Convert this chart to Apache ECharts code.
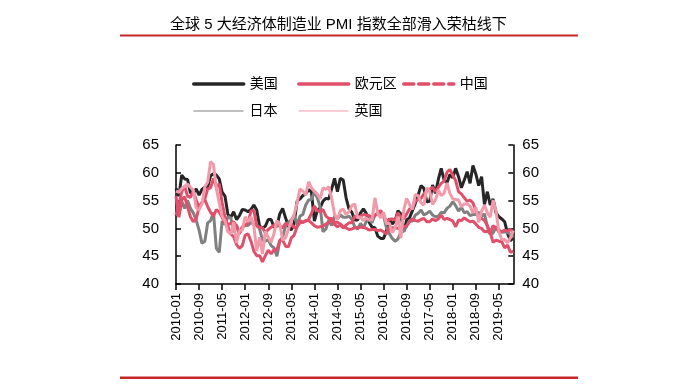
<!DOCTYPE html>
<html>
<head>
<meta charset="utf-8">
<script src="https://cdn.jsdelivr.net/npm/echarts@6/dist/echarts.min.js"></script>
<style>html,body{margin:0;padding:0;background:#fff}#c{width:700px;height:392px}</style>
</head>
<body>
<div id="c"></div>
<script>
var titleText = '全球 5 大经济体制造业 PMI 指数全部滑入荣枯线下';
var seriesNames = ['美国', '欧元区', '中国', '日本', '英国'];
var yTicks = [40, 45, 50, 55, 60, 65];

var months = [];
for (var y = 2010; y <= 2019; y++) {
  for (var m = 1; m <= 12; m++) {
    if (y === 2019 && m > 10) break;
    months.push(y + '-' + (m < 10 ? '0' + m : m));
  }
}

var us = [
  57.2, 55.8, 59.6, 58.9, 58.8, 56.4, 56.4, 57.1, 56.0, 57.0, 57.4, 57.5,
  59.5, 59.8, 59.6, 58.9, 56.5, 55.8, 52.5, 52.0, 53.0, 51.6, 52.3, 53.4,
  53.3, 53.0, 53.4, 54.2, 53.3, 50.4, 50.1, 50.4, 51.6, 51.6, 50.2, 50.4,
  52.6, 53.6, 51.9, 50.4, 49.7, 51.0, 54.9, 55.3, 55.9, 56.2, 57.0, 56.5,
  51.3, 53.2, 53.7, 54.9, 55.4, 55.3, 57.1, 59.0, 56.6, 59.0, 58.7, 55.5,
  53.5, 52.9, 51.5, 51.5, 52.8, 53.5, 52.7, 51.1, 50.2, 50.1, 48.6, 48.2,
  48.2, 49.5, 51.8, 50.8, 51.3, 53.2, 52.6, 49.4, 51.5, 51.9, 53.2, 54.5,
  56.0, 57.7, 57.2, 54.8, 54.9, 57.8, 56.3, 58.8, 60.8, 58.7, 58.2, 59.7,
  59.1, 60.8, 59.3, 57.3, 58.7, 60.2, 58.1, 61.3, 59.8, 57.7, 59.3, 54.3,
  56.6, 54.2, 55.3, 52.8, 52.1, 51.7, 51.2, 49.1, 47.8, 48.3
];
var ez = [
  52.4, 54.2, 56.6, 57.6, 55.8, 55.6, 56.7, 55.1, 53.7, 54.6, 55.3, 57.1,
  57.3, 59.0, 57.5, 58.0, 54.6, 52.0, 50.4, 49.0, 48.5, 47.1, 46.4, 46.9,
  48.8, 49.0, 47.7, 45.9, 45.1, 45.1, 44.0, 45.1, 46.1, 45.4, 46.2, 46.1,
  47.9, 47.9, 46.8, 46.7, 48.3, 48.8, 50.3, 51.4, 51.1, 51.3, 51.6, 52.7,
  54.0, 53.2, 53.0, 53.4, 52.2, 51.8, 51.8, 50.7, 50.3, 50.6, 50.1, 50.6,
  51.0, 51.0, 52.2, 52.0, 52.2, 52.5, 52.4, 52.3, 52.0, 52.3, 52.8, 53.2,
  52.3, 51.2, 51.6, 51.7, 51.5, 52.8, 52.0, 51.7, 52.6, 53.5, 53.7, 54.9,
  55.2, 55.4, 56.2, 56.7, 57.0, 57.4, 56.6, 57.4, 58.1, 58.5, 60.1, 60.6,
  59.6, 58.6, 56.6, 56.2, 55.5, 54.9, 55.1, 54.6, 53.2, 52.0, 51.8, 51.4,
  50.5, 49.3, 47.5, 47.9, 47.7, 47.6, 46.5, 47.0, 45.7, 45.9
];
var cn = [
  55.8, 52.0, 55.1, 55.7, 53.9, 52.1, 51.2, 51.7, 53.8, 54.7, 55.2, 53.9,
  52.9, 52.2, 53.4, 52.9, 52.0, 50.9, 50.7, 50.9, 51.2, 50.4, 49.0, 50.3,
  50.5, 51.0, 53.1, 53.3, 50.4, 50.2, 50.1, 49.2, 49.8, 50.2, 50.6, 50.6,
  50.4, 50.1, 50.9, 50.6, 50.8, 50.1, 50.3, 51.0, 51.1, 51.4, 51.4, 51.0,
  50.5, 50.2, 50.3, 50.4, 50.8, 51.0, 51.7, 51.1, 51.1, 50.8, 50.3, 50.1,
  49.8, 49.9, 50.1, 50.1, 50.2, 50.2, 50.0, 49.7, 49.8, 49.8, 49.6, 49.7,
  49.4, 49.0, 50.2, 50.1, 50.1, 50.0, 49.9, 50.4, 50.4, 51.2, 51.7, 51.4,
  51.3, 51.6, 51.8, 51.2, 51.2, 51.7, 51.4, 51.7, 52.4, 51.6, 51.8, 51.6,
  51.3, 50.3, 51.5, 51.4, 51.9, 51.5, 51.2, 51.3, 50.8, 50.2, 50.0, 49.4,
  49.5, 49.2, 50.5, 50.1, 49.4, 49.4, 49.7, 49.5, 49.8, 49.3
];
var jp = [
  52.5, 52.5, 54.8, 53.6, 55.0, 53.6, 52.8, 51.5, 49.7, 47.3, 47.7, 51.0,
  51.4, 52.9, 46.4, 45.7, 51.3, 50.7, 52.1, 51.9, 49.3, 50.6, 49.1, 50.2,
  50.7, 50.5, 51.1, 50.7, 50.7, 49.9, 47.9, 47.7, 48.0, 46.9, 46.5, 45.0,
  47.7, 48.5, 50.4, 51.1, 51.5, 52.3, 50.7, 52.2, 52.5, 54.2, 55.1, 55.2,
  56.6, 55.5, 53.9, 49.4, 49.9, 51.5, 50.5, 52.2, 51.7, 52.4, 52.0, 52.0,
  52.2, 51.6, 50.3, 49.9, 50.9, 50.1, 51.2, 51.7, 51.0, 52.4, 52.6, 52.6,
  52.3, 50.1, 49.1, 48.2, 47.7, 48.1, 49.3, 49.5, 50.4, 51.4, 51.3, 52.4,
  52.7, 53.3, 52.4, 52.7, 53.1, 52.4, 52.1, 52.2, 52.9, 52.8, 53.6, 54.0,
  54.8, 54.1, 53.1, 53.8, 52.8, 53.0, 52.3, 52.5, 52.5, 52.9, 52.2, 52.6,
  50.3, 48.9, 49.2, 50.2, 49.8, 49.3, 49.4, 49.3, 48.9, 48.4
];
var uk = [
  56.7, 56.5, 57.2, 57.5, 58.0, 57.4, 56.9, 53.7, 53.3, 54.4, 57.5, 58.3,
  62.0, 61.5, 57.1, 54.6, 52.1, 51.3, 49.4, 49.0, 51.1, 47.4, 49.6, 49.7,
  52.1, 51.2, 52.1, 50.5, 45.9, 48.4, 45.4, 49.5, 48.4, 47.5, 49.1, 51.4,
  50.8, 47.9, 48.3, 49.8, 51.3, 52.5, 54.6, 57.1, 56.7, 56.0, 58.4, 57.3,
  56.7, 56.2, 55.3, 57.3, 57.0, 57.5, 55.4, 52.5, 51.6, 53.2, 53.5, 52.5,
  53.0, 54.1, 54.4, 51.9, 52.0, 51.4, 51.9, 51.5, 51.5, 55.5, 52.7, 51.9,
  52.9, 50.8, 51.0, 49.2, 50.1, 52.1, 48.2, 53.3, 55.4, 54.3, 53.4, 56.1,
  55.9, 54.6, 54.2, 57.3, 56.7, 54.3, 55.1, 56.9, 55.9, 56.3, 58.2, 56.3,
  55.3, 55.2, 55.1, 53.9, 54.4, 54.4, 54.0, 52.8, 53.8, 51.1, 53.1, 54.2,
  52.8, 52.0, 55.1, 53.1, 49.4, 48.0, 48.0, 47.4, 48.3, 49.6
];

var FONT = '"Liberation Sans", Arial, "Noto Sans CJK SC", sans-serif';
var C_US = '#262626', C_EZ = '#E0506A', C_CN = '#E0506A', C_JP = '#808080', C_UK = '#F29AAA';

function mkLegend(name, left, top, ls) {
  return {
    data: [name], left: left, top: top, padding: 0,
    itemWidth: 50, itemHeight: 14, itemGap: 0,
    textStyle: { fontSize: 14, color: '#000', fontFamily: FONT, padding: [0, 0, 0, 1] },
    lineStyle: ls,
    itemStyle: { opacity: 0, color: 'transparent', borderColor: 'transparent', borderWidth: 0 },
    selectedMode: false
  };
}

var chart = echarts.init(document.getElementById('c'), null, { renderer: 'canvas' });
chart.setOption({
  animation: false,
  backgroundColor: '#fff',
  graphic: [
    { type: 'text', left: 170, top: 17, style: { text: titleText, fontSize: 15, fill: '#000', fontFamily: FONT } },
    { type: 'rect', shape: { x: 120, y: 34.5, width: 458, height: 2 }, style: { fill: '#C8262B' } },
    { type: 'rect', shape: { x: 120, y: 376.5, width: 458, height: 2.5 }, style: { fill: '#C8262B' } }
  ],
  legend: [
    mkLegend('美国', 192, 77, { width: 3.5, cap: 'round' }),
    mkLegend('欧元区', 297, 77, { width: 3.5, cap: 'round' }),
    mkLegend('中国', 402, 77, { width: 3.5, type: [10, 5], cap: 'round' }),
    mkLegend('日本', 193, 104, { width: 1 }),
    mkLegend('英国', 298, 104, { width: 1 })
  ],
  grid: { left: 176, right: 186.7, top: 145, bottom: 108, containLabel: false },
  xAxis: {
    type: 'category', data: months, boundaryGap: false,
    axisLine: { lineStyle: { color: '#000', width: 1.5 } },
    axisTick: { interval: 7, length: 6, lineStyle: { color: '#000', width: 1.5 } },
    axisLabel: { interval: 7, rotate: 90, fontSize: 13, color: '#000', fontFamily: FONT, margin: 9 },
    splitLine: { show: false }
  },
  yAxis: [
    {
      type: 'value', min: 40, max: 65, interval: 5, position: 'left',
      axisLine: { show: true, lineStyle: { color: '#000', width: 1.5 } },
      axisTick: { show: true, inside: true, length: 5, lineStyle: { color: '#000', width: 1.5 } },
      axisLabel: { fontSize: 15, color: '#000', fontFamily: FONT, margin: 17 },
      splitLine: { show: false }
    },
    {
      type: 'value', min: 40, max: 65, interval: 5, position: 'right',
      axisLine: { show: true, lineStyle: { color: '#000', width: 1.5 } },
      axisTick: { show: true, inside: true, length: 5, lineStyle: { color: '#000', width: 1.5 } },
      axisLabel: { fontSize: 15, color: '#000', fontFamily: FONT, margin: 9 },
      splitLine: { show: false }
    }
  ],
  series: [
    { name: '美国', type: 'line', data: us, symbol: 'none', lineStyle: { color: C_US, width: 3 }, itemStyle: { color: C_US }, z: 2 },
    { name: '欧元区', type: 'line', data: ez, symbol: 'none', lineStyle: { color: C_EZ, width: 3 }, itemStyle: { color: C_EZ }, z: 3 },
    { name: '中国', type: 'line', data: cn, symbol: 'none', lineStyle: { color: C_CN, width: 3 }, itemStyle: { color: C_CN }, z: 3 },
    { name: '日本', type: 'line', data: jp, symbol: 'none', lineStyle: { color: C_JP, width: 3 }, itemStyle: { color: C_JP }, z: 2 },
    { name: '英国', type: 'line', data: uk, symbol: 'none', lineStyle: { color: C_UK, width: 3 }, itemStyle: { color: C_UK }, z: 4 }
  ]
});
</script>
</body>
</html>
